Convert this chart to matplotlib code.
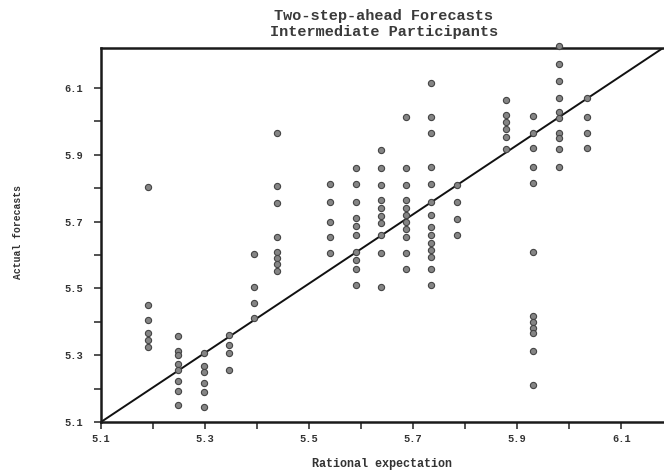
import matplotlib
matplotlib.use("Agg")
import matplotlib.pyplot as plt
import numpy as np

# Columns of rational expectation values and the actual forecasts at each
col_x = [5.19, 5.248, 5.298, 5.346, 5.394, 5.438, 5.54, 5.59, 5.638, 5.687,
         5.735, 5.785, 5.879, 5.931, 5.981, 6.033]
col_y = [
    [5.804, 5.450, 5.405, 5.366, 5.346, 5.325],
    [5.357, 5.313, 5.301, 5.274, 5.256, 5.223, 5.193, 5.151],
    [5.307, 5.268, 5.250, 5.217, 5.190, 5.145],
    [5.360, 5.331, 5.307, 5.256],
    [5.603, 5.504, 5.456, 5.411],
    [5.965, 5.807, 5.756, 5.654, 5.609, 5.591, 5.573, 5.552],
    [5.813, 5.759, 5.699, 5.654, 5.606],
    [5.860, 5.813, 5.759, 5.711, 5.687, 5.660, 5.609, 5.585, 5.558, 5.510],
    [5.914, 5.860, 5.810, 5.765, 5.741, 5.717, 5.696, 5.660, 5.606, 5.504],
    [6.013, 5.860, 5.810, 5.765, 5.741, 5.720, 5.699, 5.678, 5.654, 5.606, 5.558],
    [6.115, 6.013, 5.965, 5.863, 5.813, 5.759, 5.720, 5.684, 5.660, 5.636,
     5.615, 5.594, 5.558, 5.510],
    [5.810, 5.759, 5.708, 5.660],
    [6.064, 6.019, 5.998, 5.977, 5.953, 5.917],
    [6.016, 5.965, 5.920, 5.863, 5.816, 5.609, 5.417, 5.399, 5.381, 5.366,
     5.313, 5.211],
    [6.226, 6.172, 6.121, 6.070, 6.028, 6.010, 5.965, 5.950, 5.917, 5.863],
    [6.070, 6.013, 5.965, 5.920],
]
line_x = [5.1, 6.18]
line_y = [5.1, 6.22]
major_ticks = [5.1, 5.3, 5.5, 5.7, 5.9, 6.1]
major_labels = ["5.1", "5.3", "5.5", "5.7", "5.9", "6.1"]
minor_ticks = [5.2, 5.4, 5.6, 5.8, 6.0]

title = "Two-step-ahead Forecasts\nIntermediate Participants"
xlabel = "Rational expectation"
ylabel = "Actual forecasts"

font = ["Liberation Mono", "DejaVu Sans Mono"]

fig = plt.figure(figsize=(6.64, 4.74), dpi=100)
ax = fig.add_axes([101 / 664, 52 / 474, 562 / 664, 374 / 474])

xs = np.concatenate([[x] * len(ys) for x, ys in zip(col_x, col_y)])
ys = np.concatenate([np.array(v) for v in col_y])

ax.plot(line_x, line_y, color="#111111", lw=1.4, zorder=2)
ax.scatter(xs, ys, s=20, facecolor="#858585", edgecolor="#444444",
           linewidths=0.8, zorder=3, clip_on=False)

ax.set_xlim(5.1, 6.18)
ax.set_ylim(5.1, 6.22)

ax.set_xticks(major_ticks)
ax.set_xticklabels(major_labels)
ax.set_yticks(major_ticks)
ax.set_yticklabels(major_labels)
ax.set_xticks(minor_ticks, minor=True)
ax.set_yticks(minor_ticks, minor=True)

ax.tick_params(which="both", direction="out", length=5, width=1.1,
               color="#222222")
ax.tick_params(which="major", labelsize=7.5)
ax.tick_params(axis="x", which="major", pad=4)
ax.tick_params(axis="y", which="major", pad=8)
for lab in ax.get_xticklabels() + ax.get_yticklabels():
    lab.set_family(font)
    lab.set_weight("bold")
    lab.set_color("#333333")

for side in ["left", "bottom", "top"]:
    ax.spines[side].set_linewidth(1.8)
    ax.spines[side].set_color("#1a1a1a")
ax.spines["right"].set_visible(False)

fig.text(0.578, 0.982, title, ha="center", va="top", family=font,
         fontsize=11, weight="bold", color="#3a3a3a", linespacing=1.25)
fig.text(0.575, 0.008, xlabel, ha="center", va="bottom", family=font,
         fontsize=8.5, weight="bold", color="#333333")
fig.text(0.027, 0.51, ylabel, ha="center", va="center", rotation=90,
         family=font, fontsize=7, weight="bold", color="#333333")

fig.savefig("out.png", dpi=100)
